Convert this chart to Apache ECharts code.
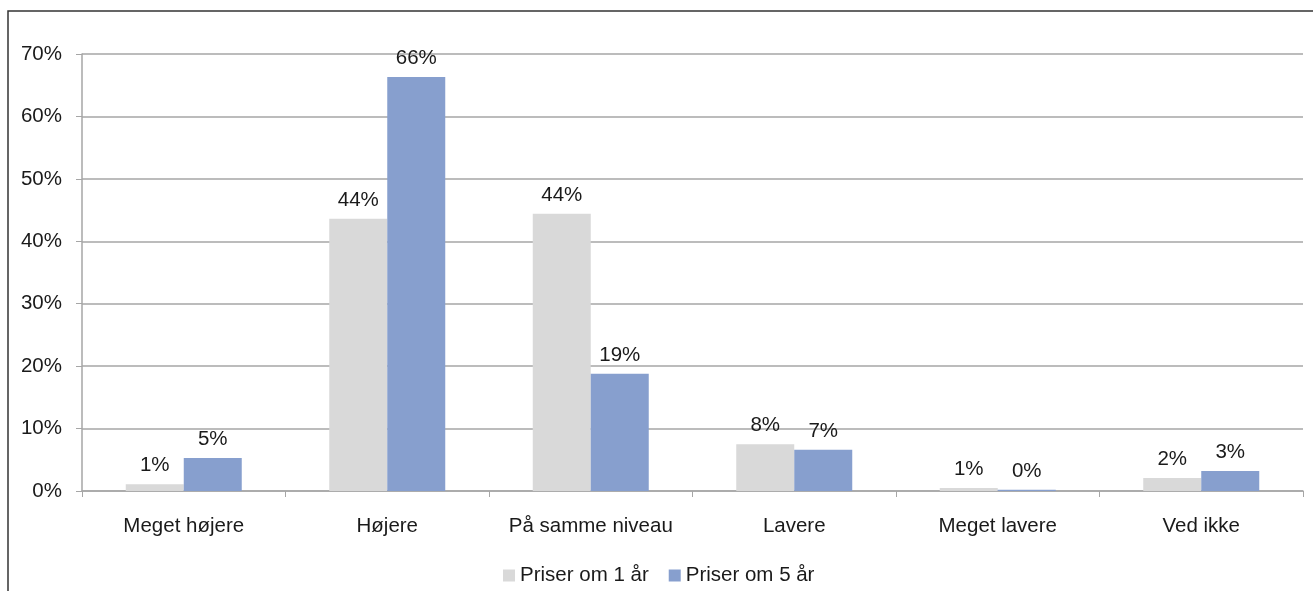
<!DOCTYPE html>
<html>
<head>
<meta charset="utf-8">
<script src="https://cdn.jsdelivr.net/npm/echarts@6/dist/echarts.min.js"></script>
<style>
  html, body { margin: 0; padding: 0; background: #fff; }
  #chart { width: 1313px; height: 591px; }
</style>
</head>
<body>
<div id="chart"></div>
<script>
// Forventninger til prisudviklingen
const categories = ['Meget højere', 'Højere', 'På samme niveau', 'Lavere', 'Meget lavere', 'Ved ikke'];
const seriesNames = ['Priser om 1 år', 'Priser om 5 år'];
const prices1yr = [1.1, 43.6, 44.4, 7.5, 0.5, 2.1];
const prices5yr = [5.3, 66.3, 18.8, 6.6, 0.2, 3.2];
const yTicks = [0, 10, 20, 30, 40, 50, 60, 70];

const FONT = '"Liberation Sans", Arial, sans-serif';
const FS = 20.5;
const TEXT = '#1a1a1a';
const AXIS = '#a6a6a6';

const labelOpt = {
  show: true,
  position: 'top',
  distance: 8,
  fontFamily: FONT,
  fontSize: FS,
  color: TEXT,
  formatter: p => Math.round(p.value) + '%'
};

const chart = echarts.init(document.getElementById('chart'), null, { renderer: 'canvas' });
chart.setOption({
  animation: false,
  backgroundColor: '#fff',
  graphic: [{
    type: 'rect',
    shape: { x: 8, y: 11, width: 1400, height: 700 },
    style: { fill: null, stroke: '#333', lineWidth: 1.5 },
    z: 100
  }],
  grid: { left: 82, right: 10, top: 54, bottom: 100, containLabel: false },
  legend: {
    data: seriesNames,
    left: 498,
    top: 560,
    itemWidth: 12,
    itemHeight: 12,
    itemGap: 20,
    icon: 'rect',
    textStyle: { fontFamily: FONT, fontSize: FS, color: TEXT }
  },
  xAxis: {
    type: 'category',
    data: categories,
    axisLine: { show: true, lineStyle: { color: AXIS, width: 1.5 } },
    axisTick: { show: true, length: 6, alignWithLabel: false, lineStyle: { color: AXIS } },
    axisLabel: { margin: 25, fontFamily: FONT, fontSize: FS, color: TEXT, interval: 0 }
  },
  yAxis: {
    type: 'value',
    min: yTicks[0],
    max: yTicks[yTicks.length - 1],
    interval: 10,
    axisLine: { show: true, lineStyle: { color: AXIS, width: 1.5 } },
    axisTick: { show: true, length: 6, inside: false, lineStyle: { color: AXIS } },
    splitLine: { show: true, lineStyle: { color: AXIS, width: 1.5 } },
    axisLabel: { margin: 20, fontFamily: FONT, fontSize: FS, color: TEXT, formatter: v => v + '%' }
  },
  series: [
    {
      name: seriesNames[0],
      type: 'bar',
      data: prices1yr,
      barWidth: 58,
      barGap: '0%',
      itemStyle: { color: '#d9d9d9' },
      label: labelOpt
    },
    {
      name: seriesNames[1],
      type: 'bar',
      data: prices5yr,
      barWidth: 58,
      barGap: '0%',
      itemStyle: { color: '#879fce' },
      label: labelOpt
    }
  ]
});
</script>
</body>
</html>
